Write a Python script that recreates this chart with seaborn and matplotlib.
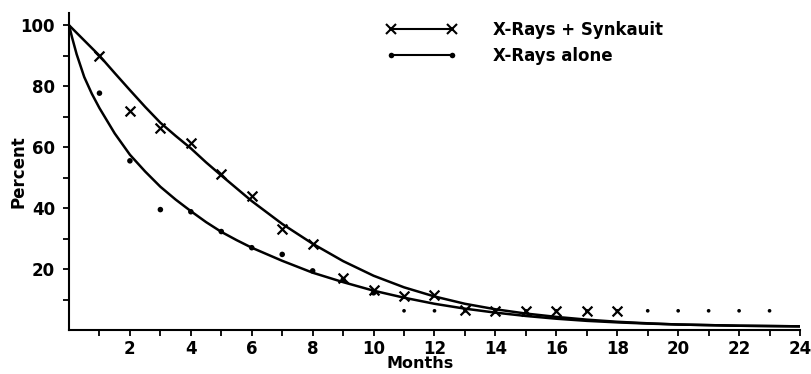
# Survival curves: X-Rays + Synkauit vs X-Rays alone

import numpy as np
import pandas as pd
import matplotlib as mpl
mpl.use('Agg')
from matplotlib import pyplot as plt
from matplotlib.lines import Line2D
import seaborn as sns

# observed points
synk_months = [1, 2, 3, 4, 5, 6, 7, 8, 9, 10, 11, 12, 13, 14, 15, 16, 17, 18]
synk_pct = [90, 72, 66.3, 61.2, 51.2, 44, 33, 28.3, 17, 13.1, 11.2, 11.4,
            6.6, 6.3, 6.3, 6.3, 6.3, 6.3]

alone_months = [1, 2, 3, 4, 5, 6, 7, 8, 9, 10, 11, 12, 13, 14, 15, 16, 17,
                18, 19, 20, 21, 22, 23]
alone_pct = [77.7, 55.5, 39.5, 38.8, 32.3, 27, 24.8, 19.4, 16.4, 12.2, 6.3, 6.3,
             6.3, 6.3, 6.3, 6.3, 6.3, 6.3, 6.3, 6.3, 6.3, 6.3, 6.3]

# fitted curves
curve_months = [0, 0.1, 0.25, 0.5, 0.75, 1, 1.5, 2, 2.5, 3, 3.5, 4, 4.5, 5,
                5.5, 6, 7, 8, 9, 10, 11, 12, 13, 14, 15, 16, 17, 18, 19, 20,
                21, 22, 23, 24]
synk_curve = [100, 99, 97.5, 95, 92.5, 90, 84.3, 78.7, 73.2, 68, 63.7, 59.6,
              55, 50.7, 46.5, 42.3, 34.8, 28.3, 22.6, 17.8, 14, 11, 8.6, 6.8,
              5.4, 4.3, 3.4, 2.7, 2.2, 1.8, 1.6, 1.4, 1.3, 1.2]
alone_curve = [100, 96, 90.5, 83, 77.5, 72.8, 64.5, 57.5, 52, 47, 42.8, 39,
               35.4, 32.2, 29.5, 27, 22.7, 18.8, 15.7, 12.9, 10.6, 8.6, 7.0,
               5.7, 4.6, 3.7, 3.0, 2.5, 2.1, 1.8, 1.6, 1.4, 1.3, 1.2]

x_ticks = list(range(1, 25))
x_labels = [str(m) if m % 2 == 0 else '' for m in x_ticks]
y_ticks = list(range(10, 101, 10))
y_labels = [str(v) if v % 20 == 0 else '' for v in y_ticks]

sns.set_style('ticks')
plt.rcParams['font.family'] = ['DejaVu Sans']
plt.rcParams['font.weight'] = 'bold'
plt.rcParams['text.color'] = 'black'
plt.rcParams['axes.labelcolor'] = 'black'
plt.rcParams['xtick.color'] = 'black'
plt.rcParams['ytick.color'] = 'black'

fig = plt.figure(figsize=(8.12, 3.74), dpi=100)
ax = fig.add_axes([69 / 812, 1 - 330 / 374, 731 / 812, 317 / 374])

curves = pd.DataFrame({'month': curve_months, 'synk': synk_curve, 'alone': alone_curve})
sns.lineplot(data=curves, x='month', y='synk', color='black', lw=1.8, ax=ax)
sns.lineplot(data=curves, x='month', y='alone', color='black', lw=1.8, ax=ax)

am = np.array(alone_months)
sns.scatterplot(x=alone_months, y=alone_pct, marker='o', color='black',
                s=np.where(am >= 11, 7, 16), edgecolor='none', ax=ax)
sns.scatterplot(x=synk_months, y=synk_pct, marker='x', color='black',
                s=50, linewidth=1.6, ax=ax)

ax.set_xlim(0, 24)
ax.set_ylim(0, 104)
ax.set_xticks(x_ticks)
ax.set_xticklabels(x_labels)
ax.set_yticks(y_ticks)
ax.set_yticklabels(y_labels)
ax.tick_params(axis='both', labelsize=12, width=1.3, length=4,
               color='black', labelcolor='black')
ax.tick_params(axis='x', pad=3)
ax.tick_params(axis='y', pad=6)
for s in ['top', 'right']:
    ax.spines[s].set_visible(False)
for s in ['left', 'bottom']:
    ax.spines[s].set_linewidth(1.5)
    ax.spines[s].set_color('black')

ax.set_xlabel('Months', fontsize=11.5, fontweight='bold')
ax.set_ylabel('Percent', fontsize=12, fontweight='bold')
ax.xaxis.set_label_coords(0.48, -0.082)
ax.yaxis.set_label_coords(-0.057, 0.5)

handles = [
    Line2D([], [], color='black', lw=1.5, marker='x', ms=7, mew=1.5),
    Line2D([], [], color='black', lw=1.5, marker='o', ms=4, mec='none'),
]
leg = ax.legend(handles, ['X-Rays + Synkauit', 'X-Rays alone'], numpoints=2,
                frameon=False, loc='upper left',
                bbox_to_anchor=(386 / 812, 1 - 21 / 374),
                bbox_transform=fig.transFigure, borderaxespad=0, borderpad=0,
                handlelength=4.25, handletextpad=2.15, labelspacing=0.5,
                prop={'size': 12, 'weight': 'bold'})

fig.savefig('out.png', dpi=100)
